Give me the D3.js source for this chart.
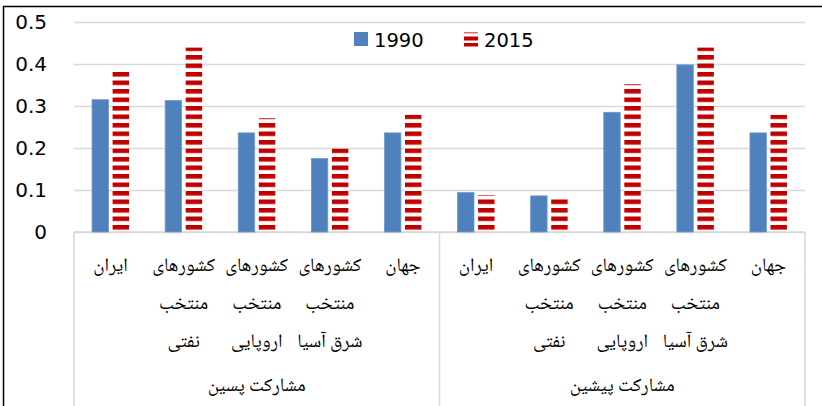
<!DOCTYPE html>
<html>
<head>
<meta charset="utf-8">
<script src="https://cdn.jsdelivr.net/npm/d3@7"></script>
<style>
  body { margin: 0; background: #fff; }
  svg { display: block; }
  .num { font-family: "DejaVu Sans", sans-serif; }
  .fa { font-family: "Noto Naskh Arabic", "Noto Sans Arabic", "DejaVu Sans", sans-serif; }
</style>
</head>
<body>
<svg width="822" height="406"></svg>
<script>
// chart data
const groups = ["مشارکت پسین", "مشارکت پیشین"];
const categories = ["ایران", "کشورهای منتخب نفتی", "کشورهای منتخب اروپایی", "کشورهای منتخب شرق آسیا", "جهان"];
const categoryLines = [["ایران"], ["کشورهای", "منتخب", "نفتی"], ["کشورهای", "منتخب", "اروپایی"], ["کشورهای", "منتخب", "شرق آسیا"], ["جهان"]];
const seriesNames = ["1990", "2015"];
const values1990 = [0.315, 0.313, 0.236, 0.175, 0.236, 0.094, 0.086, 0.285, 0.398, 0.236];
const values2015 = [0.382, 0.439, 0.271, 0.199, 0.279, 0.088, 0.079, 0.352, 0.439, 0.279];
const yTicks = [0, 0.1, 0.2, 0.3, 0.4, 0.5];

const W = 822, H = 406;
const plotLeft = 74, plotRight = 805, plotTop = 22, plotBottom = 232;

const svg = d3.select("svg");

// outer chart border (right and bottom fall outside the picture)
svg.append("rect")
  .attr("x", 3.5).attr("y", 6.5)
  .attr("width", 840).attr("height", 430)
  .attr("fill", "none").attr("stroke", "#000").attr("stroke-width", 1.5);

// stripe pattern for 2015
const defs = svg.append("defs");
const pat = defs.append("pattern")
  .attr("id", "stripes")
  .attr("patternUnits", "userSpaceOnUse")
  .attr("x", 0).attr("y", 4)
  .attr("width", 8).attr("height", 8.5);
pat.append("rect").attr("width", 8).attr("height", 8.5).attr("fill", "#fff");
pat.append("rect").attr("y", -0.4).attr("width", 8).attr("height", 5.3).attr("fill", "#f4caca");
pat.append("rect").attr("width", 8).attr("height", 4.5).attr("fill", "#c00000");

const y = d3.scaleLinear().domain([0, 0.5]).range([plotBottom, plotTop]);

const rows = [];
groups.forEach((g, gi) => {
  categories.forEach((c, ci) => {
    const i = gi * categories.length + ci;
    rows.push({ key: g + "|" + c, group: g, ci: ci, v1990: values1990[i], v2015: values2015[i] });
  });
});

const x = d3.scaleBand().domain(rows.map(d => d.key)).range([plotLeft, plotRight]);
const xg = d3.scaleBand().domain(groups).range([plotLeft, plotRight]);
const xs = d3.scaleBand().domain(seriesNames).range([-18.5, 18.5]).paddingInner(0.2);

// gridlines + tick labels
const yAxis = d3.axisLeft(y)
  .tickValues(yTicks)
  .tickFormat(d => d === 0 ? "0" : d3.format(".1f")(d))
  .tickSize(-(plotRight - plotLeft))
  .tickPadding(27);

const ga = svg.append("g").attr("transform", `translate(${plotLeft},0)`).call(yAxis);
ga.select(".domain").remove();
ga.selectAll(".tick line").attr("stroke", "#d9d9d9").attr("stroke-width", 1.5);
ga.selectAll(".tick text")
  .attr("class", "num")
  .attr("fill", "#000")
  .style("font-size", "20px");

// category axis box
const box = svg.append("g").attr("stroke", "#d9d9d9").attr("stroke-width", 1.5).attr("fill", "none");
box.append("line").attr("x1", plotLeft).attr("x2", plotRight).attr("y1", plotBottom).attr("y2", plotBottom);
[plotLeft, xg(groups[1]), plotRight].forEach(px => {
  box.append("line").attr("x1", px).attr("x2", px).attr("y1", plotBottom).attr("y2", H + 5);
});

// bars
const bars = svg.append("g");
bars.selectAll(".b1990").data(rows).join("rect")
  .attr("x", d => x(d.key) + x.bandwidth() / 2 + xs("1990"))
  .attr("y", d => y(d.v1990))
  .attr("width", xs.bandwidth())
  .attr("height", d => y(0) - y(d.v1990))
  .attr("fill", "#4f81bd")
  .attr("stroke", "#6f98cb").attr("stroke-width", 0.8);

bars.selectAll(".b2015").data(rows).join("rect")
  .attr("x", d => x(d.key) + x.bandwidth() / 2 + xs("2015"))
  .attr("y", d => y(d.v2015))
  .attr("width", xs.bandwidth())
  .attr("height", d => y(0) - y(d.v2015) - 1)
  .attr("fill", "url(#stripes)");

// category labels
const lineY = [271, 309, 347];
const labels = svg.append("g").attr("class", "fa").style("font-size", "19px");
rows.forEach(d => {
  categoryLines[d.ci].forEach((t, li) => {
    labels.append("text")
      .attr("x", x(d.key) + x.bandwidth() / 2)
      .attr("y", lineY[li])
      .attr("direction", "rtl")
      .attr("text-anchor", "middle")
      .text(t);
  });
});

// group labels
svg.append("g").attr("class", "fa").style("font-size", "19px")
  .selectAll("text").data(groups).join("text")
  .attr("x", d => xg(d) + xg.bandwidth() / 2)
  .attr("y", 391)
  .attr("direction", "rtl")
  .attr("text-anchor", "middle")
  .text(d => d);

// legend
const legend = svg.append("g").attr("class", "num").style("font-size", "19.5px");
const legX = [354, 464];
legend.append("rect").attr("x", legX[0]).attr("y", 32).attr("width", 14).attr("height", 14).attr("fill", "#4f81bd");
legend.append("rect").attr("x", legX[1]).attr("y", 32).attr("width", 14).attr("height", 14).attr("fill", "#fff");
legend.append("rect").attr("x", legX[1]).attr("y", 32).attr("width", 14).attr("height", 1.5).attr("fill", "#e07070");
legend.append("rect").attr("x", legX[1]).attr("y", 36.5).attr("width", 14).attr("height", 4).attr("fill", "#c00000");
legend.append("rect").attr("x", legX[1]).attr("y", 43).attr("width", 14).attr("height", 3.5).attr("fill", "#c00000");
seriesNames.forEach((s, i) => {
  legend.append("text").attr("x", legX[i] + 20).attr("y", 46.5).attr("fill", "#000").text(s);
});
</script>
</body>
</html>
